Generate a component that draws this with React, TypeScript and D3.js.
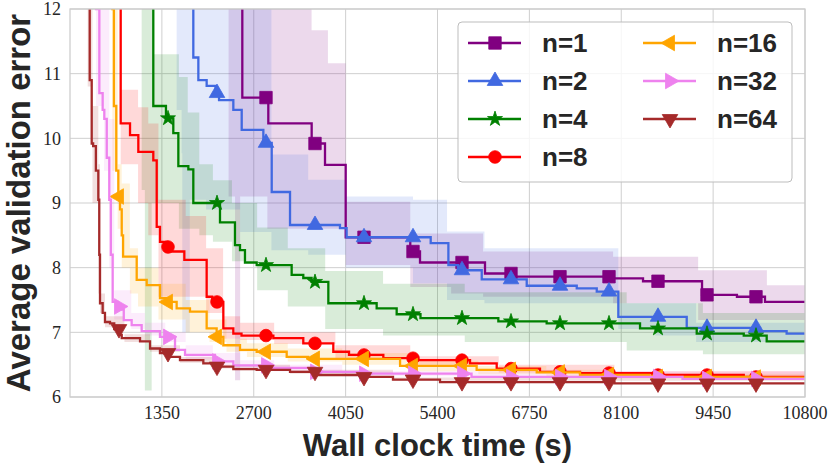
import * as d3 from "d3"

// mean curves: [time (s), average validation error]
const n1Mean: [number, number][] = [
  [2400, 13], [2532, 10.63], [2914, 10.23], [3551, 9.92], [3747, 9.59], [4051, 8.47],
  [5000, 8.25], [5143, 8.08], [6098, 7.91], [6539, 7.86], [7980, 7.835], [8420, 7.79],
  [9287, 7.58], [9800, 7.55], [10212, 7.47], [10800, 7.47],
]
const n2Mean: [number, number][] = [
  [1700, 13], [1812, 11.25], [1886, 10.9], [2008, 10.81], [2140, 10.7], [2190, 10.59],
  [2400, 10.44], [2523, 10.13], [2841, 9.93], [2964, 9.17], [3233, 8.66], [3967, 8.61],
  [4065, 8.47], [5300, 8.38], [5560, 8.04], [5700, 7.96], [6050, 7.82], [6711, 7.72],
  [7446, 7.68], [7740, 7.63], [8057, 7.24], [9062, 7.07], [10140, 7.02], [10530, 6.98],
  [10800, 6.98],
]
const n4Mean: [number, number][] = [
  [1150, 13], [1224, 10.5], [1410, 10.31], [1518, 10.08], [1592, 9.57], [1739, 9.52],
  [1812, 9.0], [2204, 8.7], [2424, 8.35], [2498, 8.27], [2571, 8.08], [2743, 8.04],
  [3257, 7.89], [3428, 7.84], [3550, 7.78], [3796, 7.45], [4506, 7.37], [4800, 7.28],
  [5150, 7.22], [6294, 7.17], [7004, 7.14], [8376, 7.06], [9209, 6.98], [9900, 6.95],
  [10237, 6.86], [10800, 6.86],
]
const n8Mean: [number, number][] = [
  [700, 13], [745, 10.23], [882, 10.05], [1004, 9.79], [1224, 9.66], [1274, 8.63],
  [1322, 8.4], [1420, 8.32], [1500, 8.25], [1680, 8.12], [2008, 7.55], [2090, 7.47],
  [2253, 7.06], [2400, 6.98], [2520, 6.95], [2988, 6.91], [3428, 6.83], [3869, 6.7],
  [4100, 6.65], [4604, 6.6], [5094, 6.57], [5878, 6.52], [6270, 6.44], [6906, 6.39],
  [7494, 6.37], [8600, 6.34], [9900, 6.31], [10800, 6.31],
]
const n16Mean: [number, number][] = [
  [600, 13], [622, 12], [645, 10.5], [680, 9.5], [710, 9.1], [735, 8.9], [760, 8.5],
  [780, 8.17], [980, 7.81], [1127, 7.73], [1322, 7.53], [1420, 7.47], [1567, 7.37],
  [1763, 7.32], [2008, 7.06], [2155, 6.93], [2253, 6.8], [2498, 6.73], [2743, 6.7],
  [3184, 6.62], [3500, 6.59], [4850, 6.48], [5975, 6.42], [6858, 6.38], [7494, 6.34],
  [8510, 6.31], [10000, 6.3], [10800, 6.3],
]
const n32Mean: [number, number][] = [
  [360, 13], [382, 12], [431, 10.7], [480, 10.44], [504, 10.3], [540, 9.7], [577, 9.05],
  [600, 8.2], [627, 7.47], [700, 7.4], [760, 7.35], [790, 7.19], [906, 7.11], [1053, 7.02],
  [1322, 6.93], [1543, 6.73], [1690, 6.65], [2130, 6.55], [2400, 6.49], [2900, 6.45],
  [3575, 6.39], [4300, 6.36], [5900, 6.31], [9000, 6.28], [10800, 6.27],
]
const n64Mean: [number, number][] = [
  [240, 13], [260, 12.3], [290, 10.9], [319, 9.92], [340, 9.88], [380, 9.5], [416, 9.05],
  [430, 8.2], [441, 7.45], [480, 7.3], [514, 7.16], [588, 7.14], [650, 7.05], [724, 6.96],
  [760, 6.91], [1029, 6.86], [1176, 6.75], [1322, 6.68], [1444, 6.62], [1616, 6.57],
  [1959, 6.52], [2155, 6.47], [2400, 6.43], [2743, 6.42], [3233, 6.39], [3625, 6.34],
  [4305, 6.31], [4746, 6.27], [5437, 6.23], [8000, 6.21], [10800, 6.21],
]

// shaded spread: [time (s), lower, upper]
const n1Band: [number, number, number][] = [
  [2330, 9.1, 13], [2425, 6.26, 13], [2500, 9.1, 13], [2900, 8.6, 13], [3550, 8.6, 11.67],
  [3790, 8.6, 11.16], [4051, 8.04, 9.02], [5000, 7.7, 8.53], [5600, 7.6, 8.53],
  [6070, 7.55, 8.25], [7980, 7.45, 8.17], [9230, 7.19, 7.96], [10240, 7.19, 7.73],
  [10800, 7.19, 7.73],
]
const n2Band: [number, number, number][] = [
  [1567, 10.44, 13], [1640, 9.77, 13], [1650, 7.0, 13], [1760, 9.05, 13], [2000, 8.9, 13],
  [2500, 8.55, 13], [2960, 8.27, 9.75], [3500, 8.2, 9.36], [4051, 8.0, 9.1],
  [5040, 7.76, 9.05], [5540, 7.5, 8.56], [6090, 7.45, 8.3], [8057, 7.05, 7.45],
  [8600, 6.95, 7.45], [9200, 6.85, 7.15], [10800, 6.85, 7.15],
]
const n4Band: [number, number, number][] = [
  [1053, 9.2, 13], [1100, 6.1, 13], [1200, 9.0, 13], [1224, 9.0, 11.3], [1600, 8.6, 10.95],
  [1730, 8.6, 10.4], [1900, 8.5, 9.6], [2100, 8.4, 9.35], [2380, 8.1, 9.0],
  [2750, 7.65, 8.62], [3200, 7.4, 8.3], [3750, 7.05, 7.95], [4600, 6.95, 7.75],
  [5800, 6.85, 7.62], [8180, 6.72, 7.45], [9300, 6.66, 7.3], [10800, 6.66, 7.3],
]
const n8Band: [number, number, number][] = [
  [745, 9.6, 10.75], [1000, 9.0, 10.48], [1150, 8.5, 10.23], [1300, 7.55, 9.05],
  [1700, 7.55, 8.8], [2000, 7.3, 8.3], [2250, 6.9, 7.25], [2500, 6.88, 7.15],
  [3000, 6.82, 7.0], [3900, 6.6, 6.8], [5000, 6.5, 6.63], [6300, 6.38, 6.5],
  [8000, 6.3, 6.4], [10800, 6.3, 6.38],
]
const n16Band: [number, number, number][] = [
  [622, 9.5, 13], [700, 8.6, 9.6], [760, 8.0, 9.3], [880, 7.6, 8.3], [1000, 7.4, 8.0],
  [1300, 7.2, 7.75], [1700, 7.0, 7.5], [2050, 6.85, 7.2], [2300, 6.7, 6.9],
  [2600, 6.62, 6.83], [3200, 6.55, 6.75], [4000, 6.5, 6.68], [5000, 6.4, 6.56],
  [6000, 6.35, 6.48], [7000, 6.32, 6.42], [8000, 6.29, 6.36], [10800, 6.28, 6.33],
]
const n32Band: [number, number, number][] = [
  [382, 10.5, 13], [500, 9.5, 12], [577, 8.0, 10.3], [650, 7.2, 7.65], [900, 7.05, 7.3],
  [1100, 6.95, 7.15], [1400, 6.85, 7.0], [1700, 6.58, 6.8], [2100, 6.5, 6.68],
  [2500, 6.44, 6.57], [3000, 6.4, 6.5], [4000, 6.32, 6.4], [10800, 6.25, 6.32],
]
const n64Band: [number, number, number][] = [
  [260, 10.8, 13], [330, 9.0, 10.5], [416, 7.6, 9.6], [441, 7.3, 7.6], [514, 7.08, 7.25],
  [800, 6.85, 6.97], [1176, 6.7, 6.8], [1616, 6.53, 6.62], [2155, 6.44, 6.5],
  [3233, 6.36, 6.42], [4746, 6.25, 6.3], [10800, 6.2, 6.24],
]

const markerTimes = [720, 1440, 2160, 2880, 3600, 4320, 5040, 5760, 6480, 7200, 7920, 8640, 9360, 10080]
const xTicks = [1350, 2700, 4050, 5400, 6750, 8100, 9450, 10800]
const yTicks = [6, 7, 8, 9, 10, 11, 12]

type Marker = "square" | "up" | "star" | "circle" | "left" | "right" | "down"

const series = [
  { label: "n=1", color: "#800080", marker: "square" as Marker, mean: n1Mean, band: n1Band },
  { label: "n=2", color: "#4169E1", marker: "up" as Marker, mean: n2Mean, band: n2Band },
  { label: "n=4", color: "#008000", marker: "star" as Marker, mean: n4Mean, band: n4Band },
  { label: "n=8", color: "#FF0000", marker: "circle" as Marker, mean: n8Mean, band: n8Band },
  { label: "n=16", color: "#FFA500", marker: "left" as Marker, mean: n16Mean, band: n16Band },
  { label: "n=32", color: "#EE82EE", marker: "right" as Marker, mean: n32Mean, band: n32Band },
  { label: "n=64", color: "#A52A2A", marker: "down" as Marker, mean: n64Mean, band: n64Band },
]

const width = 830
const height = 467
const margin = { top: 9, right: 25, bottom: 70, left: 70 }

const x = d3.scaleLinear().domain([0, 10800]).range([margin.left, width - margin.right])
const y = d3.scaleLinear().domain([6, 12]).range([height - margin.bottom, margin.top])

const symbolPath = (m: Marker) => {
  if (m === "square") return d3.symbol(d3.symbolSquare, 155)()
  if (m === "star") return d3.symbol(d3.symbolStar, 70)()
  if (m === "circle") return d3.symbol(d3.symbolCircle, 125)()
  return d3.symbol(d3.symbolTriangle, 105)()
}
const symbolRotate = (m: Marker) =>
  m === "left" ? -90 : m === "right" ? 90 : m === "down" ? 180 : 0

// value of a step curve at time t
const stepValue = (pts: [number, number][], t: number) => {
  const i = d3.bisector((d: [number, number]) => d[0]).right(pts, t) - 1
  return pts[Math.max(i, 0)][1]
}

const line = d3
  .line<[number, number]>()
  .x(d => x(d[0]))
  .y(d => y(d[1]))
  .curve(d3.curveStepAfter)

const area = d3
  .area<[number, number, number]>()
  .x(d => x(d[0]))
  .y0(d => y(d[1]))
  .y1(d => y(d[2]))
  .curve(d3.curveStepAfter)

const MarkerGlyph = ({ m, cx, cy, color }: { m: Marker; cx: number; cy: number; color: string }) => (
  <path
    d={symbolPath(m) || ""}
    transform={`translate(${cx},${cy}) rotate(${symbolRotate(m)})`}
    fill={color}
    stroke={color}
    strokeWidth={0.8}
  />
)

const App = () => {
  const tickFont = "'Liberation Serif', 'DejaVu Serif', serif"
  const labelFont = "'Liberation Sans', Arial, sans-serif"
  const x0 = margin.left
  const x1 = width - margin.right
  const y0 = height - margin.bottom
  const y1 = margin.top

  return (
    <svg
      width={width}
      height={height}
      style={{ position: "absolute", left: 0, top: 0, background: "white" }}
    >
      <defs>
        <clipPath id="plot-area">
          <rect x={x0} y={y1} width={x1 - x0} height={y0 - y1} />
        </clipPath>
      </defs>

      {/* grid */}
      <g stroke="#cfcfcf" strokeWidth={1}>
        {xTicks.map(t => (
          <line key={`gx${t}`} x1={x(t)} x2={x(t)} y1={y1} y2={y0} />
        ))}
        {yTicks.map(v => (
          <line key={`gy${v}`} x1={x0} x2={x1} y1={y(v)} y2={y(v)} />
        ))}
      </g>

      <g clipPath="url(#plot-area)">
        {series.map(s => (
          <path key={`band${s.label}`} d={area(s.band) || ""} fill={s.color} fillOpacity={0.15} />
        ))}
        {series.map(s => (
          <g key={`line${s.label}`}>
            <path d={line(s.mean) || ""} fill="none" stroke={s.color} strokeWidth={2.3} />
            {markerTimes.map(t => (
              <MarkerGlyph key={t} m={s.marker} cx={x(t)} cy={y(stepValue(s.mean, t))} color={s.color} />
            ))}
          </g>
        ))}
      </g>

      {/* frame */}
      <rect x={x0} y={y1} width={x1 - x0} height={y0 - y1} fill="none" stroke="#cccccc" strokeWidth={1.25} />

      {/* tick labels */}
      <g fontFamily={tickFont} fontSize={18} fill="#262626">
        {yTicks.map(v => (
          <text key={`ty${v}`} x={x0 - 9} y={y(v)} dy="0.35em" textAnchor="end">
            {v}
          </text>
        ))}
        {xTicks.map(t => (
          <text key={`tx${t}`} x={x(t)} y={y0 + 22} textAnchor="middle">
            {t}
          </text>
        ))}
      </g>

      {/* axis labels */}
      <text
        x={(x0 + x1) / 2}
        y={456}
        textAnchor="middle"
        fontFamily={labelFont}
        fontWeight="bold"
        fontSize={31}
        fill="#262626"
      >
        Wall clock time (s)
      </text>
      <text
        transform={`translate(30,${(y0 + y1) / 2}) rotate(-90)`}
        textAnchor="middle"
        fontFamily={labelFont}
        fontWeight="bold"
        fontSize={33}
        fill="#262626"
      >
        Average validation error
      </text>

      {/* legend */}
      <g>
        <rect x={458} y={22} width={334} height={160} rx={4} fill="white" fillOpacity={0.8} stroke="#bdbdbd" strokeWidth={1} />
        {series.map((s, i) => {
          const col = i < 4 ? 0 : 1
          const row = i < 4 ? i : i - 4
          const lx = 468 + col * 175
          const ly = 43 + row * 38
          return (
            <g key={`leg${s.label}`}>
              <line x1={lx} x2={lx + 53} y1={ly} y2={ly} stroke={s.color} strokeWidth={2.3} />
              <MarkerGlyph m={s.marker} cx={lx + 27} cy={ly} color={s.color} />
              <text
                x={lx + 74}
                y={ly}
                dy="0.36em"
                fontFamily={labelFont}
                fontWeight="bold"
                fontSize={26}
                fill="#262626"
              >
                {s.label}
              </text>
            </g>
          )
        })}
      </g>
    </svg>
  )
}

export default App
